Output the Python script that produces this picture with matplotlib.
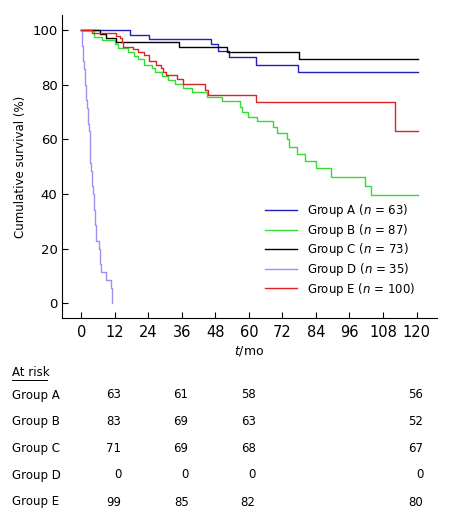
import matplotlib
matplotlib.use("Agg")
import matplotlib.pyplot as plt
from matplotlib.transforms import blended_transform_factory
from matplotlib.lines import Line2D

# courbes de survie (temps en mois, survie en %)
A_t = [0, 17.3, 24.3, 46.4, 49.1, 52.8, 62.6, 77.5, 120.5]
A_s = [100, 98.3, 96.7, 94.9, 92.3, 90.0, 87.4, 84.7, 84.7]

B_t = [0, 4.4, 7.4, 12.2, 13.3, 16.6, 19.0, 20.5, 22.3, 25.5,
       26.5, 29.0, 31.0, 33.6, 36.6, 39.7, 44.9, 50.5, 56.8, 57.5,
       59.8, 62.9, 68.8, 69.9, 73.5, 74.5, 77.1, 80.1, 84.1, 89.5,
       101.6, 103.7, 120.5]
B_s = [100, 97.5, 96.3, 94.8, 93.5, 92.1, 90.6, 89.3, 87.4, 86.0,
       84.7, 83.2, 81.7, 80.1, 78.7, 77.3, 75.6, 74.0, 71.7, 70.1,
       68.3, 66.7, 64.6, 62.5, 60.2, 57.4, 54.8, 52.0, 49.4, 46.3,
       42.9, 39.6, 39.6]

C_t = [0, 6.8, 8.9, 12.4, 35.0, 52.3, 78.0, 120.6]
C_s = [100, 98.6, 97.2, 95.6, 93.8, 92.0, 89.3, 89.3]

D_t = [0, 0.2, 0.4, 0.6, 0.8, 1.0, 1.2, 1.4, 1.6, 1.8,
       2.0, 2.3, 2.6, 2.8, 3.0, 3.2, 3.5, 3.8, 4.0, 4.3,
       4.6, 4.9, 5.2, 6.5, 6.7, 6.9, 7.2, 8.9, 10.6, 10.9]
D_s = [100, 97.1, 94.3, 91.4, 88.6, 85.7, 82.9, 80.0, 77.1, 74.3,
       71.4, 68.6, 65.7, 62.9, 57.1, 51.4, 48.6, 45.7, 42.9, 40.0,
       34.3, 28.6, 22.9, 20.0, 17.1, 14.3, 11.4, 8.6, 5.7, 0]

E_t = [0, 4.0, 12.5, 13.9, 14.6, 15.1, 18.7, 20.3, 22.3, 24.1,
       26.8, 28.6, 29.4, 30.3, 34.1, 36.4, 44.3, 45.2, 62.5, 112.3, 120.4]
E_s = [100, 99.0, 98.0, 97.0, 95.8, 94.0, 93.0, 92.0, 90.9, 88.8,
       87.2, 86.0, 84.7, 83.5, 82.0, 80.1, 78.0, 76.2, 73.8, 63.0, 63.0]

groupes = ["Group A", "Group B", "Group C", "Group D", "Group E"]
effectifs = [63, 87, 73, 35, 100]
couleurs = ["#2222bb", "#33dd33", "#000000", "#a58cf0", "#e02222"]

# nombre de sujets a risque
temps_risque = [12, 36, 60, 120]
a_risque = [
    [63, 61, 58, 56],
    [83, 69, 63, 52],
    [71, 69, 68, 67],
    [0, 0, 0, 0],
    [99, 85, 82, 80],
]

courbes = [(A_t, A_s), (B_t, B_s), (C_t, C_s), (D_t, D_s), (E_t, E_s)]

fig = plt.figure(figsize=(4.5, 5.21), dpi=100)
ax = fig.add_axes([0.137, 0.389, 0.834, 0.582])

for (t, s), nom, n, c in zip(courbes, groupes, effectifs, couleurs):
    ax.plot(t, s, drawstyle="steps-post", color=c, lw=1.0,
            label=f"{nom} ($n$ = {n})")

ax.set_xlim(-7, 127.3)
ax.set_ylim(-5.5, 105.5)
ax.set_xticks(range(0, 121, 12))
ax.set_yticks(range(0, 101, 20))
ax.tick_params(direction="in", length=4, width=0.8)
ax.tick_params(axis="x", labelsize=10.5, pad=5)
ax.tick_params(axis="y", labelsize=9.5, pad=3)
for cote in ["top", "right"]:
    ax.spines[cote].set_visible(False)
ax.set_ylabel("Cumulative survival (%)", fontsize=8.5, labelpad=4)
ax.set_xlabel("$t$/mo", fontsize=9, labelpad=3)

ax.legend(loc="upper left", bbox_to_anchor=(0.542, 0.383), frameon=False,
          fontsize=8.5, handlelength=2.7, handletextpad=0.85,
          labelspacing=0.22, borderpad=0, borderaxespad=0)

# tableau "At risk"
fig.text(12 / 450, 1 - 373 / 521, "At risk", fontsize=8.5, va="center")
fig.add_artist(Line2D([12 / 450, 47 / 450], [1 - 379.5 / 521] * 2,
                      color="black", lw=0.7))
trans = blended_transform_factory(ax.transData, fig.transFigure)
lignes_y = [395, 421.7, 448.3, 475, 502]
for nom, valeurs, yp in zip(groupes, a_risque, lignes_y):
    yf = 1 - yp / 521
    fig.text(12 / 450, yf, nom, fontsize=8.5, va="center")
    for tr, v in zip(temps_risque, valeurs):
        ax.text(tr + 2.4, yf, str(v), transform=trans, fontsize=8.5,
                ha="right", va="center", clip_on=False)

fig.savefig("out.png", dpi=100)
